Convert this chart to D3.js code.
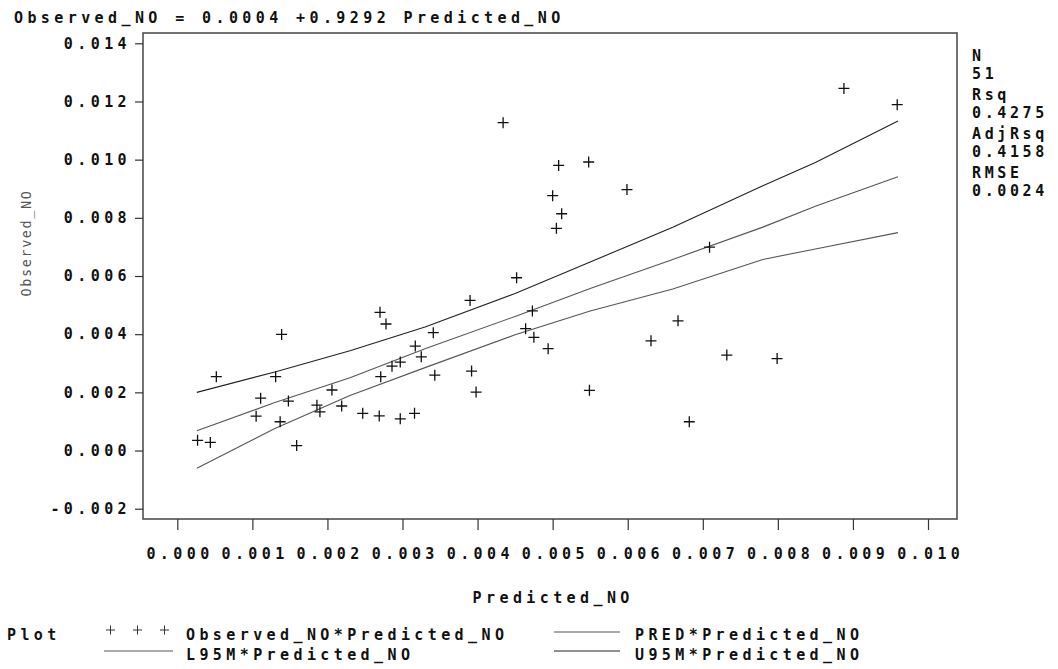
<!DOCTYPE html>
<html><head><meta charset="utf-8">
<script src="https://cdn.jsdelivr.net/npm/d3@7"></script>
<style>
body{margin:0;background:#fff}
text{font-family:"DejaVu Sans Mono",monospace;}
</style>
</head><body>
<svg id="c" width="1058" height="669"></svg>
<script>
const predictedNO = [0.00027,0.00044,0.00052,0.00139,0.00131,0.00111,0.00105,0.00137,0.00148,0.00159,
  0.00186,0.00190,0.00206,0.00219,0.00247,0.00269,0.00297,0.00316,0.00270,0.00278,
  0.00271,0.00286,0.00297,0.00317,0.00325,0.00341,0.00343,0.00434,0.00508,0.00548,
  0.00500,0.00512,0.00505,0.00452,0.00390,0.00473,0.00464,0.00475,0.00494,0.00392,
  0.00398,0.00549,0.00888,0.00959,0.00599,0.00709,0.00667,0.00631,0.00732,0.00799,0.00682];
const observedNO = [0.00035,0.00028,0.00254,0.00399,0.00254,0.00180,0.00118,0.00099,0.00170,0.00017,
  0.00156,0.00133,0.00208,0.00153,0.00128,0.00119,0.00109,0.00128,0.00475,0.00435,
  0.00254,0.00290,0.00304,0.00359,0.00322,0.00405,0.00259,0.01127,0.00980,0.00992,
  0.00876,0.00814,0.00764,0.00594,0.00516,0.00480,0.00419,0.00389,0.00350,0.00273,
  0.00201,0.00207,0.01245,0.01189,0.00897,0.00699,0.00446,0.00377,0.00328,0.00316,0.00099];

// Fitted line and 95% mean confidence limits, read at a few x positions
const fitX    = [0.00026,0.0013,0.0023,0.0033,0.0045,0.0055,0.0066,0.0078,0.0085,0.0096];
const fitPRED = [0.00068,0.00165,0.00250,0.00350,0.00461,0.00557,0.00657,0.00768,0.00840,0.00941];
const fitL95M = [-0.00061,0.00076,0.00189,0.00285,0.00398,0.00480,0.00555,0.00657,0.00693,0.00749];
const fitU95M = [0.00200,0.00270,0.00343,0.00425,0.00540,0.00648,0.00768,0.00910,0.00990,0.01133];

const xTicks = [0,0.001,0.002,0.003,0.004,0.005,0.006,0.007,0.008,0.009,0.010];
const yTicks = [-0.002,0,0.002,0.004,0.006,0.008,0.010,0.012,0.014];
const statLines = ["N","51","Rsq","0.4275","AdjRsq","0.4158","RMSE","0.0024"];
const titleText = "Observed_NO = 0.0004 +0.9292 Predicted_NO";

const svg = d3.select("#c");
const L = 143, T = 33, R = 957, B = 519;
const FS = 15, LS = 4.4; // font size, letter spacing
const x = d3.scaleLinear().domain([0, 0.010]).range([177.3, 928]);
const y = d3.scaleLinear().domain([-0.002, 0.014]).range([508.7, 43.3]);
const fmt = d => d.toFixed(3);

const bold = sel => sel.attr("font-family", "DejaVu Sans Mono").attr("font-size", FS)
  .attr("font-weight", "bold").attr("letter-spacing", LS).attr("fill", "#111");

// title
svg.append("text").attr("x", 14).attr("y", 23).call(bold).text(titleText);

// frame
svg.append("rect").attr("x", L).attr("y", T).attr("width", R - L).attr("height", B - T)
  .attr("fill", "none").attr("stroke", "#444").attr("stroke-width", 1.5);

// y axis
const gy = svg.append("g").attr("transform", `translate(${L},0)`)
  .call(d3.axisLeft(y).tickValues(yTicks).tickFormat(fmt).tickSize(8).tickPadding(4));
gy.select(".domain").remove();
gy.selectAll(".tick line").attr("stroke", "#333").attr("stroke-width", 1.2);
gy.selectAll(".tick text").call(bold);

// x axis
const gx = svg.append("g").attr("transform", `translate(0,${B})`)
  .call(d3.axisBottom(x).tickValues(xTicks).tickFormat(fmt).tickSize(11).tickPadding(18));
gx.select(".domain").remove();
gx.selectAll(".tick line").attr("stroke", "#333").attr("stroke-width", 1.2);
gx.selectAll(".tick text").call(bold).attr("dx", LS / 2);

// axis titles
svg.append("text").attr("x", 551 + LS / 2).attr("y", 603).attr("text-anchor", "middle")
  .call(bold).text("Predicted_NO");
svg.append("text").attr("transform", "translate(31,243) rotate(-90)").attr("text-anchor", "middle")
  .attr("font-size", 13.5).attr("letter-spacing", 1.6).attr("fill", "#555").text("Observed_NO");

// fit lines
const line = d3.line().x(d => x(d[0])).y(d => y(d[1]));
const series = [
  {vals: fitU95M, color: "#222"},
  {vals: fitPRED, color: "#555"},
  {vals: fitL95M, color: "#555"}
];
series.forEach(s => {
  svg.append("path").datum(fitX.map((v, i) => [v, s.vals[i]]))
    .attr("d", line).attr("fill", "none").attr("stroke", s.color).attr("stroke-width", 1.1);
});

// points
const plus = "M-5.5,0H5.5M0,-5.5V5.5";
svg.append("g").selectAll("path").data(predictedNO.map((v, i) => [v, observedNO[i]]))
  .join("path").attr("d", plus)
  .attr("transform", d => `translate(${x(d[0])},${y(d[1])})`)
  .attr("stroke", "#111").attr("stroke-width", 1.3).attr("fill", "none");

// stats on the right
const statY = [61, 79, 100, 118, 139, 157, 178, 196];
svg.append("g").selectAll("text").data(statLines).join("text")
  .attr("x", 972).attr("y", (d, i) => statY[i])
  .call(bold).attr("letter-spacing", 3.6).text(d => d);

// legend
const lg = svg.append("g");
const txt = (xx, yy, t) => lg.append("text").attr("x", xx).attr("y", yy).call(bold).text(t);
txt(7, 640, "Plot");
[110.5, 137.5, 164.5].forEach(cx => lg.append("path").attr("d", "M-4.5,0H4.5M0,-4.5V4.5")
  .attr("transform", `translate(${cx},630)`).attr("stroke", "#333").attr("stroke-width", 1));
txt(186, 640, "Observed_NO*Predicted_NO");
lg.append("line").attr("x1", 554).attr("x2", 620).attr("y1", 632).attr("y2", 632).attr("stroke", "#555");
txt(635, 640, "PRED*Predicted_NO");
lg.append("line").attr("x1", 104).attr("x2", 173).attr("y1", 651).attr("y2", 651).attr("stroke", "#555");
txt(186, 660, "L95M*Predicted_NO");
lg.append("line").attr("x1", 554).attr("x2", 620).attr("y1", 651).attr("y2", 651).attr("stroke", "#222");
txt(635, 660, "U95M*Predicted_NO");
</script>
</body></html>
